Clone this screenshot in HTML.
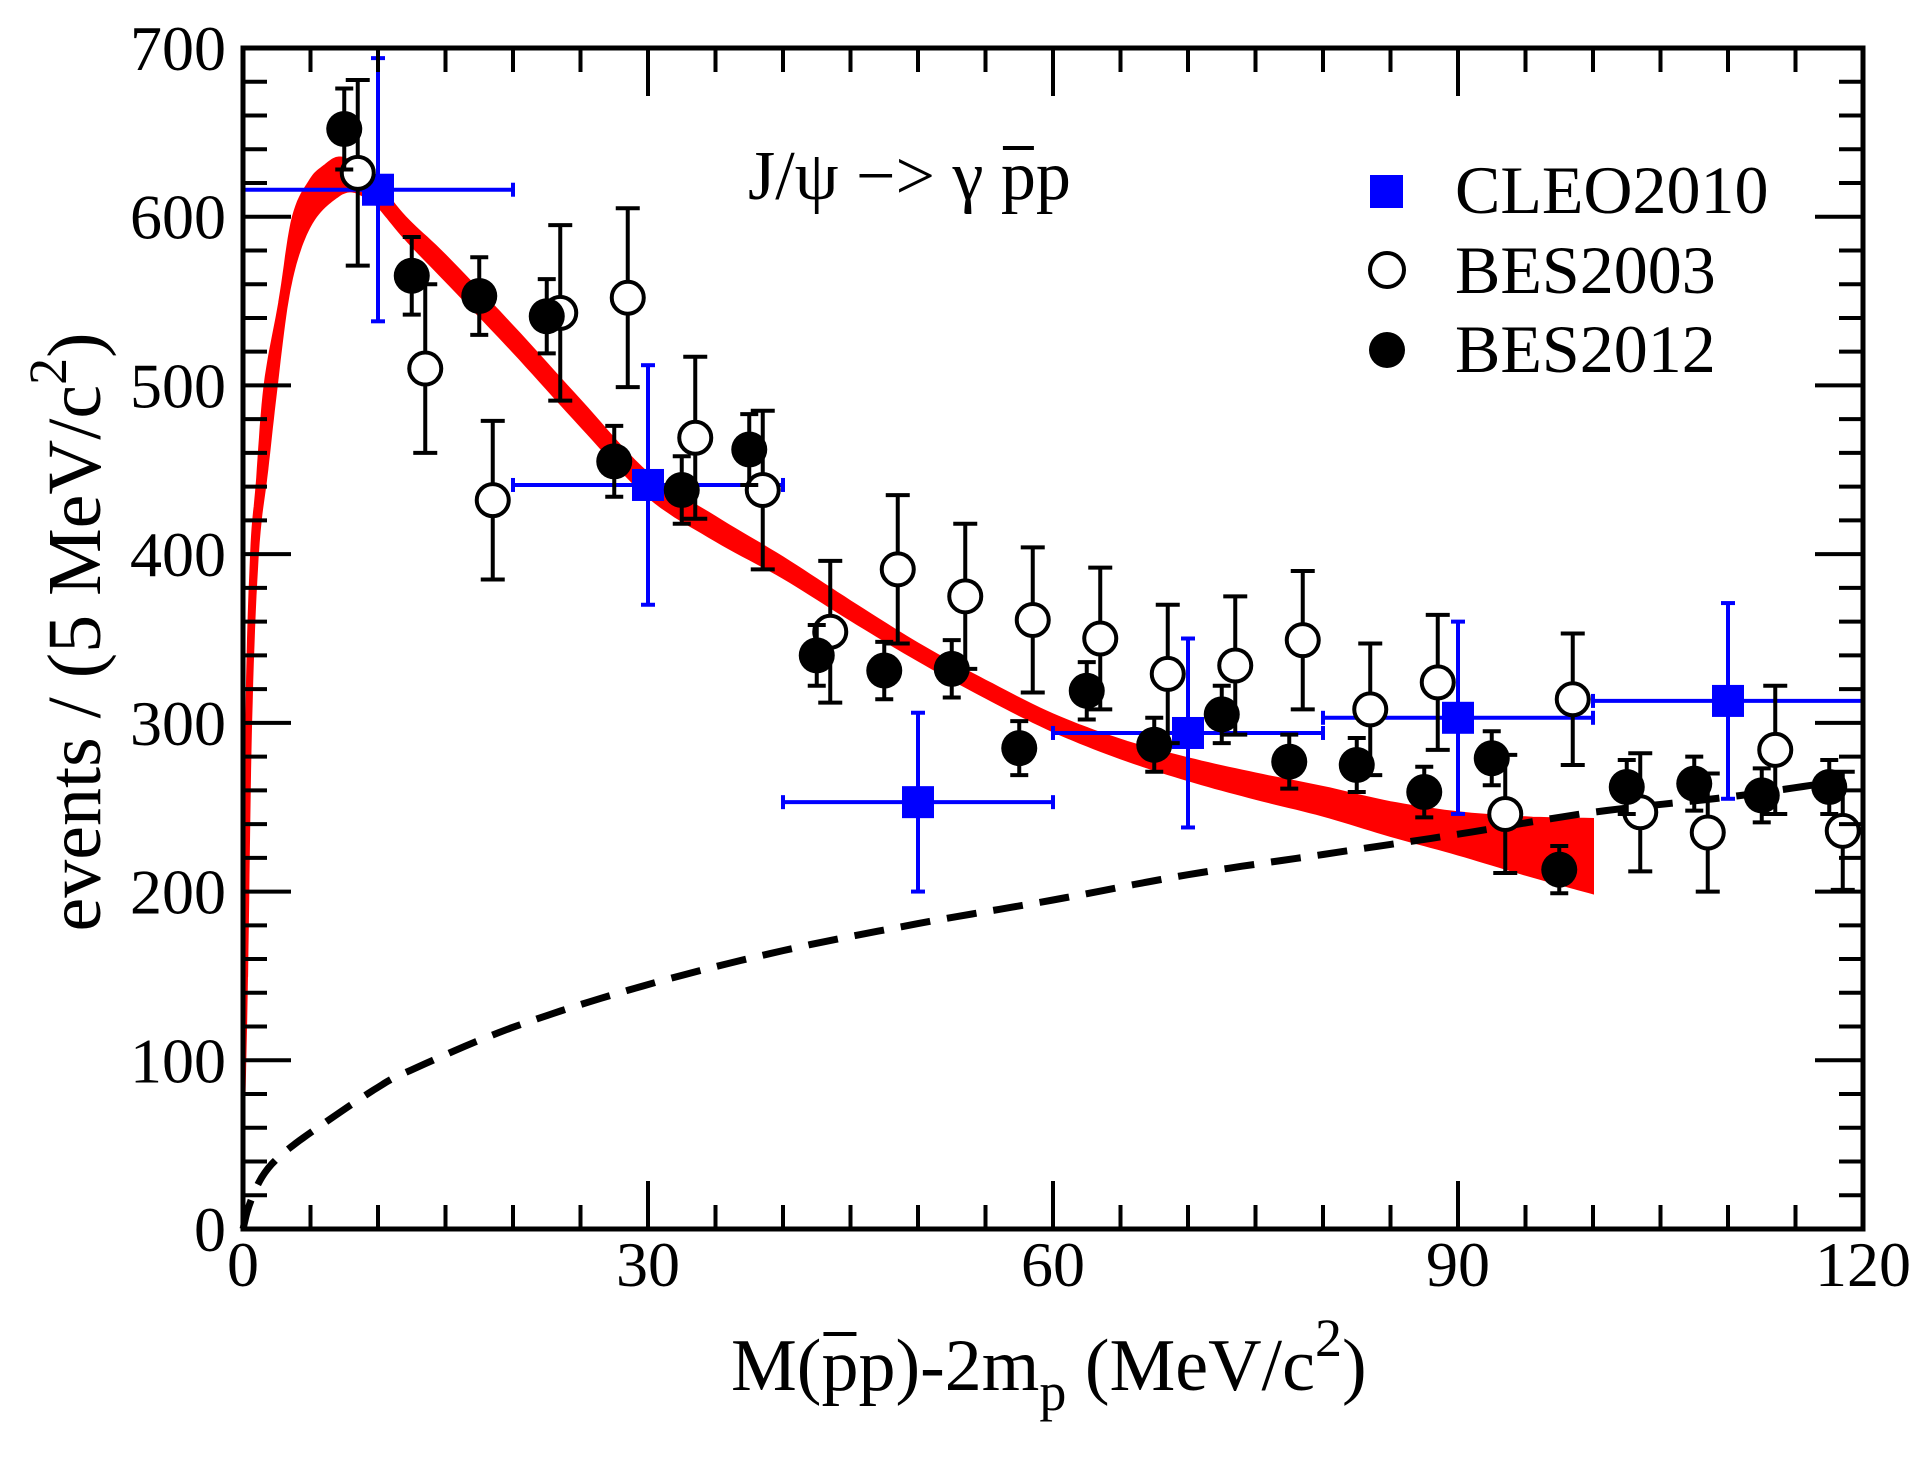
<!DOCTYPE html>
<html><head><meta charset="utf-8">
<style>
html,body{margin:0;padding:0;background:#fff;}
svg{display:block;}
text{font-family:"Liberation Serif",serif;fill:#000;}
</style></head>
<body>
<svg id="chart" width="1929" height="1458" viewBox="0 0 1929 1458" xmlns="http://www.w3.org/2000/svg">
<rect width="1929" height="1458" fill="#fff"/>
<g id="band"></g>
<g id="bg"></g>
<g id="cleo"></g>
<g id="bes03"></g>
<g id="bes12"></g>
<g id="axes"></g>
<text id="ptitle" x="748" y="199" font-size="70"><tspan id="tpre">J/ψ −&gt; γ </tspan><tspan id="tpbar">p</tspan>p</text>
<line id="tover" x1="1007" y1="148" x2="1036" y2="148" stroke="#000" stroke-width="4"/>
<g>
  <rect x="1370" y="175" width="33" height="33" fill="#00f"/>
  <text x="1455" y="213" font-size="68">CLEO2010</text>
  <circle cx="1387" cy="270" r="17" fill="#fff" stroke="#000" stroke-width="4"/>
  <text x="1455" y="293" font-size="68">BES2003</text>
  <circle cx="1387" cy="350" r="18" fill="#000"/>
  <text x="1455" y="372" font-size="68">BES2012</text>
</g>
<text x="731" y="1390" font-size="74"><tspan id="xpre">M(</tspan><tspan id="xpbar">p</tspan>p)-2m<tspan font-size="54" dy="20">p</tspan><tspan dy="-20"> (MeV/c</tspan><tspan font-size="54" dy="-34">2</tspan><tspan dy="34">)</tspan></text>
<line id="xover" x1="822" y1="1334" x2="861" y2="1334" stroke="#000" stroke-width="4"/>
<text transform="translate(100,632) rotate(-90)" text-anchor="middle" font-size="76">events / (5 MeV/c<tspan font-size="54" dy="-34">2</tspan><tspan dy="34">)</tspan></text>
</svg>
<script>
// ---- data ----
const bes12X = [7.5,12.5,17.5,22.5,27.5,32.5,37.5,42.5,47.5,52.5,57.5,62.5,67.5,72.5,77.5,82.5,87.5,92.5,97.5,102.5,107.5,112.5,117.5];
const bes12Y = [652,565,553,541,455,438,462,340,331,332,285,319,287,305,277,275,259,279,213,262,264,257,262];
const bes12Err = [24,23,23,22,21,20,21,18,17,17,16,17,16,17,16,16,15,16,14,16,16,16,16];
const bes03X = [8.5,13.5,18.5,23.5,28.5,33.5,38.5,43.5,48.5,53.5,58.5,63.5,68.5,73.5,78.5,83.5,88.5,93.5,98.5,103.5,108.5,113.5,118.5];
const bes03Y = [626,510,432,543,552,469,438,354,391,375,361,350,329,334,349,308,324,246,314,247,235,284,236];
const bes03Err = [55,50,47,52,53,48,47,42,44,43,43,42,41,41,41,39,40,35,39,35,35,38,35];
const cleoX = [10,30,50,70,90,110];
const cleoY = [616,441,253,294,303,313];
const cleoYErr = [78,71,53,56,57,58];
const cleoXErr = [10,10,10,10,10,10];
const bandUpX = [0,0.1,0.25,0.6,1,1.6,2.7,3.7,5,6,7,8,9,10,12,15,20,25,30,35,40,45,50,55,60,65,70,75,80,85,90,95,100];
const bandUpY = [50,100,300,400,440,500,550,600,622,630,635,633,628,620,600,577,535,491,448,422,398,372,347,325,305,290,279,270,262,253,247,244,243];
const bandLoX = [0,0.3,0.6,1.1,1.8,2.5,3.3,4.2,5.4,7,8,9,10,12,15,20,25,30,35,40,45,50,55,60,65,70,75,80,85,90,95,100];
const bandLoY = [40,150,300,400,450,500,550,580,600,612,615,612,606,587,562,520,476,434,408,386,361,337,315,295,279,266,255,245,233,222,210,199];
const bgX = [0,0.5,1.5,3,5.7,10,12.4,19.8,29.6,40,50,60,70,80,90,100,110,117];
const bgY = [0,15,32,45,61,84,94,119,144,165,181,195,210,222,234,247,256,264];
const xTicks = ["0","30","60","90","120"];
const yTicks = ["0","100","200","300","400","500","600","700"];

// ---- axes ----
const X0=243,X1=1863,Y0=1229,Y1=48;
const sx = v => X0 + (v/120)*(X1-X0);
const sy = v => Y0 - (v/700)*(Y0-Y1);
const NS="http://www.w3.org/2000/svg";
function mk(tag, attrs, parent){const e=document.createElementNS(NS,tag);for(const k in attrs)e.setAttribute(k,attrs[k]);parent.appendChild(e);return e;}

// smooth (Catmull-Rom) sampled path points
function smooth(pts){
  const out=[];
  for(let i=0;i<pts.length-1;i++){
    const p0=pts[Math.max(0,i-1)],p1=pts[i],p2=pts[i+1],p3=pts[Math.min(pts.length-1,i+2)];
    for(let t=0;t<1;t+=0.1){
      const t2=t*t,t3=t2*t;
      const f=(a,b,c,d)=>0.5*((2*b)+(-a+c)*t+(2*a-5*b+4*c-d)*t2+(-a+3*b-3*c+d)*t3);
      out.push([f(p0[0],p1[0],p2[0],p3[0]),f(p0[1],p1[1],p2[1],p3[1])]);
    }
  }
  out.push(pts[pts.length-1]);
  return out;
}

// band
const band=document.getElementById('band');
const up=smooth(bandUpX.map((x,i)=>[sx(x),sy(bandUpY[i])]));
const lo=smooth(bandLoX.map((x,i)=>[sx(x),sy(bandLoY[i])]));
let d='M'+up.map(p=>p[0].toFixed(1)+','+p[1].toFixed(1)).join(' L');
for(let i=lo.length-1;i>=0;i--) d+=' L'+lo[i][0].toFixed(1)+','+lo[i][1].toFixed(1);
d+='Z';
const bp=mk('path',{d:d,fill:'#f00',stroke:'#f00','stroke-width':2},band);



// background dashed
const bgG=document.getElementById('bg');
const bpts=smooth(bgX.map((x,i)=>[sx(x),sy(bgY[i])]));
const bl=mk('polyline',{points:bpts.map(p=>p[0].toFixed(1)+','+p[1].toFixed(1)).join(' '),fill:'none',stroke:'#000','stroke-width':7,'stroke-dasharray':'30 17'},bgG);



function errbar(g,x,y,e,color,w,cap){
  const l=mk('line',{x1:sx(x),x2:sx(x),y1:sy(y+e),y2:sy(y-e),stroke:color,'stroke-width':w},g);
  
  
  mk('line',{x1:sx(x)-cap,x2:sx(x)+cap,y1:sy(y+e),y2:sy(y+e),stroke:color,'stroke-width':w},g);
  mk('line',{x1:sx(x)-cap,x2:sx(x)+cap,y1:sy(y-e),y2:sy(y-e),stroke:color,'stroke-width':w},g);
}
// CLEO
const cg=document.getElementById('cleo');
cleoX.forEach((x,i)=>{
  errbar(cg,x,cleoY[i],cleoYErr[i],'#00f',4,7);
  const h=mk('line',{x1:sx(x-cleoXErr[i]),x2:sx(x+cleoXErr[i]),y1:sy(cleoY[i]),y2:sy(cleoY[i]),stroke:'#00f','stroke-width':4},cg);
  
  
  if(x-cleoXErr[i]>0) mk('line',{x1:sx(x-cleoXErr[i]),x2:sx(x-cleoXErr[i]),y1:sy(cleoY[i])-7,y2:sy(cleoY[i])+7,stroke:'#00f','stroke-width':4},cg);
  if(x+cleoXErr[i]<120) mk('line',{x1:sx(x+cleoXErr[i]),x2:sx(x+cleoXErr[i]),y1:sy(cleoY[i])-7,y2:sy(cleoY[i])+7,stroke:'#00f','stroke-width':4},cg);
  const r=mk('rect',{x:sx(x)-16,y:sy(cleoY[i])-16,width:32,height:32,fill:'#00f'},cg);
  
  
});
// BES2003
const og=document.getElementById('bes03');
bes03X.forEach((x,i)=>{
  errbar(og,x,bes03Y[i],bes03Err[i],'#000',4,12);
  const c=mk('circle',{cx:sx(x),cy:sy(bes03Y[i]),r:16,fill:'#fff',stroke:'#000','stroke-width':4},og);
  
  
});
// BES2012
const fg=document.getElementById('bes12');
bes12X.forEach((x,i)=>{
  errbar(fg,x,bes12Y[i],bes12Err[i],'#000',4,9);
  const c=mk('circle',{cx:sx(x),cy:sy(bes12Y[i]),r:18,fill:'#000'},fg);
  
  
});

// axes frame and ticks
const ax=document.getElementById('axes');
const fr=mk('rect',{x:X0,y:Y1,width:X1-X0,height:Y0-Y1,fill:'none',stroke:'#000','stroke-width':5},ax);


for(let v=0;v<=120;v+=5){
  const L=(v%30===0)?48:24;
  mk('line',{x1:sx(v),x2:sx(v),y1:Y0,y2:Y0-L,stroke:'#000','stroke-width':4},ax);
  mk('line',{x1:sx(v),x2:sx(v),y1:Y1,y2:Y1+L,stroke:'#000','stroke-width':4},ax);
}
for(let v=0;v<=700;v+=20){
  const L=(v%100===0)?48:24;
  mk('line',{x1:X0,x2:X0+L,y1:sy(v),y2:sy(v),stroke:'#000','stroke-width':4},ax);
  mk('line',{x1:X1,x2:X1-L,y1:sy(v),y2:sy(v),stroke:'#000','stroke-width':4},ax);
}
xTicks.forEach(t=>{
  const e=mk('text',{x:sx(+t),y:1286,'text-anchor':'middle','font-size':64},ax);
  e.textContent=t;
  
  
});
yTicks.forEach(t=>{
  const e=mk('text',{x:226,y:sy(+t)+22,'text-anchor':'end','font-size':64},ax);
  e.textContent=t;
  
  
});

// position overlines over the p-bar glyphs
function placeOver(preId, pId, lineId){
  const pre=document.getElementById(preId), p=document.getElementById(pId), ln=document.getElementById(lineId);
  try{
    const x0=pre.parentNode.getStartPositionOfChar(pre.textContent.length);
    const text=pre.parentNode;
    const idx=pre.textContent.length;
    const a=text.getStartPositionOfChar(idx).x, b=text.getEndPositionOfChar(idx).x;
    ln.setAttribute('x1',a+2); ln.setAttribute('x2',b-2);
  }catch(e){}
}
placeOver('tpre','tpbar','tover');
placeOver('xpre','xpbar','xover');
</script>
</body></html>
